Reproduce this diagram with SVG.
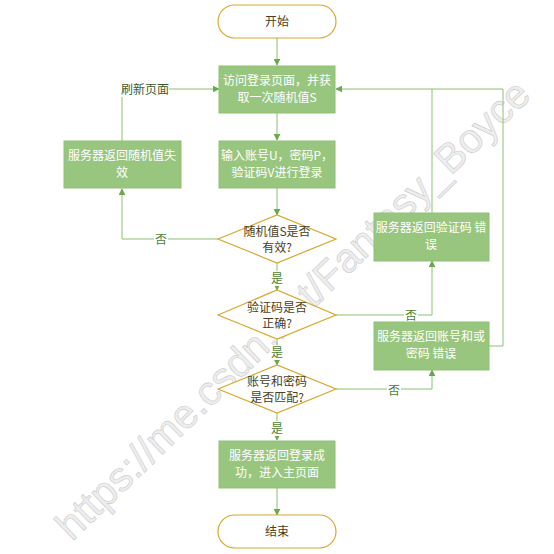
<svg xmlns="http://www.w3.org/2000/svg" width="554" height="554" viewBox="0 0 554 554">
<style>
.t{font-family:"Noto Sans CJK SC","Noto Sans",sans-serif;font-size:12px;text-anchor:middle}
.box{fill:#98c67f;stroke:#8fbf76;stroke-width:1}
.bt{fill:#ffffff}
.dia{fill:#ffffff;stroke:#d6a82c;stroke-width:1.2}
.dt{fill:#4a3f22}
.ln{fill:none;stroke:#8cc073;stroke-width:1}
.lb{fill:#4f7f31}
.wm{font-family:"Liberation Sans",Arial,sans-serif;font-size:41px;fill:#eeeeee;stroke:#cccccc;stroke-width:0.6}
</style>
<defs>
<marker id="ah" viewBox="0 0 10 10" refX="9" refY="5" markerWidth="7" markerHeight="7" orient="auto" markerUnits="userSpaceOnUse">
<path d="M0,0 L10,5 L0,10 Z" fill="#6aa84f"/>
</marker>
</defs>
<rect width="554" height="554" fill="#ffffff"/>
<text class="wm" x="0" y="0" transform="translate(72,542) rotate(-44)">https://me.csdn.net/Fantasy_Boyce</text>
<g id="connectors">
<path class="ln" d="M277,38 V65" marker-end="url(#ah)"/>
<path class="ln" d="M277,113 V140" marker-end="url(#ah)"/>
<path class="ln" d="M277,188 V215" marker-end="url(#ah)"/>
<path class="ln" d="M218,239 H122 V189" marker-end="url(#ah)"/>
<path class="ln" d="M122,141 V89 H219" marker-end="url(#ah)"/>
<path class="ln" d="M277,263 V290" marker-end="url(#ah)"/>
<path class="ln" d="M277,339 V365" marker-end="url(#ah)"/>
<path class="ln" d="M277,413 V440" marker-end="url(#ah)"/>
<path class="ln" d="M277,488 V515" marker-end="url(#ah)"/>
<path class="ln" d="M336,315 H432 V261" marker-end="url(#ah)"/>
<path class="ln" d="M336,389 H432 V370" marker-end="url(#ah)"/>
<path class="ln" d="M432,213 V89 H336" marker-end="url(#ah)"/>
<path class="ln" d="M489,346 H503 V89 H432"/>
<rect x="154" y="231" width="14" height="16" fill="#ffffff"/>
<text class="t lb" x="161" y="244">否</text>
<rect x="121" y="81" width="48" height="16" fill="#ffffff"/>
<text class="t" x="145" y="94" fill="#3f5a2e">刷新页面</text>
<rect x="270" y="271" width="14" height="15" fill="#ffffff"/>
<text class="t lb" x="277" y="283">是</text>
<rect x="270" y="345" width="14" height="15" fill="#ffffff"/>
<text class="t lb" x="277" y="357">是</text>
<rect x="270" y="421" width="14" height="15" fill="#ffffff"/>
<text class="t lb" x="277" y="433">是</text>
<rect x="404" y="307" width="14" height="16" fill="#ffffff"/>
<text class="t lb" x="411" y="320">否</text>
<rect x="387" y="382" width="14" height="16" fill="#ffffff"/>
<text class="t lb" x="394" y="395">否</text>
</g>
<g id="start">
<rect class="dia" x="218" y="5" width="118" height="33" rx="16.5"/>
<text class="t dt" x="277" y="26">开始</text>
</g>
<g id="visit">
<rect class="box" x="219" y="66" width="116" height="47"/>
<text class="t bt" x="277" y="85">访问登录页面，并获</text>
<text class="t bt" x="277" y="102">取一次随机值S</text>
</g>
<g id="input">
<rect class="box" x="219" y="141" width="116" height="47"/>
<text class="t bt" x="277" y="160">输入账号U，密码P，</text>
<text class="t bt" x="277" y="177">验证码V进行登录</text>
</g>
<g id="invalid">
<rect class="box" x="64" y="141" width="117" height="47"/>
<text class="t bt" x="122" y="160">服务器返回随机值失</text>
<text class="t bt" x="122" y="177">效</text>
</g>
<g id="check-s">
<path class="dia" d="M218,239 L277,215 L336,239 L277,263 Z"/>
<text class="t dt" x="277" y="236">随机值S是否</text>
<text class="t dt" x="277" y="252">有效?</text>
</g>
<g id="check-v">
<path class="dia" d="M218,315 L277,290 L336,315 L277,339 Z"/>
<text class="t dt" x="277" y="312">验证码是否</text>
<text class="t dt" x="277" y="328">正确?</text>
</g>
<g id="check-up">
<path class="dia" d="M218,389 L277,365 L336,389 L277,413 Z"/>
<text class="t dt" x="277" y="386">账号和密码</text>
<text class="t dt" x="277" y="402">是否匹配?</text>
</g>
<g id="err-v">
<rect class="box" x="374" y="213" width="115" height="48"/>
<text class="t bt" x="431" y="232">服务器返回验证码 错</text>
<text class="t bt" x="431" y="249">误</text>
</g>
<g id="err-up">
<rect class="box" x="374" y="322" width="115" height="48"/>
<text class="t bt" x="431" y="341">服务器返回账号和或</text>
<text class="t bt" x="431" y="358">密码 错误</text>
</g>
<g id="success">
<rect class="box" x="219" y="441" width="116" height="47"/>
<text class="t bt" x="277" y="460">服务器返回登录成</text>
<text class="t bt" x="277" y="477">功，进入主页面</text>
</g>
<g id="end">
<rect class="dia" x="218" y="515" width="118" height="33" rx="16.5"/>
<text class="t dt" x="277" y="536">结束</text>
</g>
</svg>
